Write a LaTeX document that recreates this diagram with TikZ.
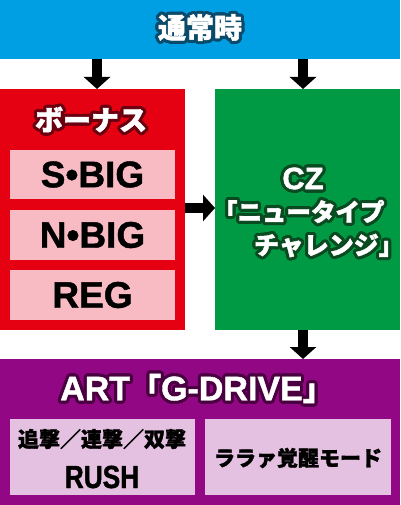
\documentclass[tikz,border=0pt]{standalone}
\usepackage{fontspec}
\setmainfont{Liberation Sans}[BoldFeatures={FakeBold=1.2}]
\newfontfamily\cond{Liberation Sans}[BoldFeatures={FakeBold=1.2,FakeStretch=0.82}]
\newfontfamily\jp{Noto Sans CJK JP}[BoldFeatures={FakeBold=1.6}]
\usepackage[copies]{contour}
\contournumber{32}
\usetikzlibrary{arrows.meta}
\definecolor{cblue}{HTML}{009FE3}
\definecolor{cred}{HTML}{E50012}
\definecolor{cgreen}{HTML}{009944}
\definecolor{cpurple}{HTML}{920783}
\definecolor{cpink}{HTML}{F8BBC4}
\definecolor{clav}{HTML}{E4C1E0}
\definecolor{oblue}{HTML}{0A4A6A}
\definecolor{ored}{HTML}{6A0010}
\definecolor{ogreen}{HTML}{0A4A20}
\definecolor{opurple}{HTML}{4A0040}
\tikzset{
  panel/.style={inner sep=0pt, outer sep=0pt, anchor=north west, draw=none},
  arr/.style={line width=10pt, -{Triangle[width=26pt,length=12pt]}},
  lbl/.style={inner sep=0pt, outer sep=0pt, text=white},
  blk/.style={inner sep=0pt, outer sep=0pt, text=black, align=center},
}
\begin{document}
\begin{tikzpicture}[x=1pt,y=-1pt]
\useasboundingbox (0,0) rectangle (400,505);
% panels
\node[panel, fill=cblue, minimum width=400pt, minimum height=59pt] (top) at (0,0) {};
\node[panel, fill=cred, minimum width=185pt, minimum height=241pt] (bonus) at (0,89) {};
\node[panel, fill=cgreen, minimum width=185pt, minimum height=241pt] (cz) at (215,89) {};
\node[panel, fill=cpurple, minimum width=400pt, minimum height=146pt] (art) at (0,359) {};
% inner boxes
\node[panel, fill=cpink, minimum width=165pt, minimum height=49pt] (sbig) at (10,150) {};
\node[panel, fill=cpink, minimum width=165pt, minimum height=50pt] (nbig) at (10,210) {};
\node[panel, fill=cpink, minimum width=165pt, minimum height=50pt] (reg) at (10,270) {};
\node[panel, fill=clav, minimum width=185pt, minimum height=76pt] (rush) at (10,419) {};
\node[panel, fill=clav, minimum width=186pt, minimum height=76pt] (lala) at (205,419) {};
% titles
\contourlength{3pt}
\node[lbl] (ttop) at (200,29) {\contour{oblue}{\jp\bfseries\fontsize{28}{32}\selectfont 通常時}};
\node[lbl] (tbonus) at (91,121) {\contour{ored}{\jp\bfseries\fontsize{28}{32}\selectfont ボーナス}};
\node[lbl] (tcz1) at (303,180) {\contour{ogreen}{\bfseries\fontsize{31}{34}\selectfont CZ}};
\node[lbl, anchor=west] (tcz2) at (213,213) {\contour{ogreen}{\jp\bfseries\fontsize{24.5}{28}\selectfont 「ニュータイプ}};
\node[lbl, anchor=west] (tcz3) at (254,247) {\contour{ogreen}{\jp\bfseries\fontsize{25}{28}\selectfont チャレンジ\rlap{」}}};
\node[lbl] (tart) at (197,390) {\contour{opurple}{\bfseries\fontsize{34}{38}\selectfont ART{\jp\fontsize{31}{34}\selectfont 「}G-DRIVE{\jp\fontsize{31}{34}\selectfont 」}}};
% box labels
\node[blk, font=\bfseries\fontsize{37}{40}\selectfont] at (sbig.center) {S•BIG};
\node[blk, font=\bfseries\fontsize{37}{40}\selectfont] at (nbig.center) {N•BIG};
\node[blk, font=\bfseries\fontsize{37}{40}\selectfont] at (reg.center) {REG};
\node[blk, font=\jp\bfseries\fontsize{21}{24}\selectfont] (r1) at (102,439) {追撃／連撃／双撃};
\node[blk, font=\cond\bfseries\fontsize{32}{34}\selectfont] (r2) at (102,477) {RUSH};
\node[blk, font=\jp\bfseries\fontsize{21}{24}\selectfont] at (298,458) {ララァ覚醒モード};
% arrows
\coordinate (a1) at (97,0);
\coordinate (a2) at (303,0);
\coordinate (a3) at (0,208);
\draw[arr] (top.south -| a1) -- (bonus.north -| a1);
\draw[arr] (top.south -| a2) -- (cz.north -| a2);
\draw[arr] (bonus.east |- a3) -- (cz.west |- a3);
\draw[arr] (cz.south -| a2) -- (art.north -| a2);
\end{tikzpicture}
\end{document}
